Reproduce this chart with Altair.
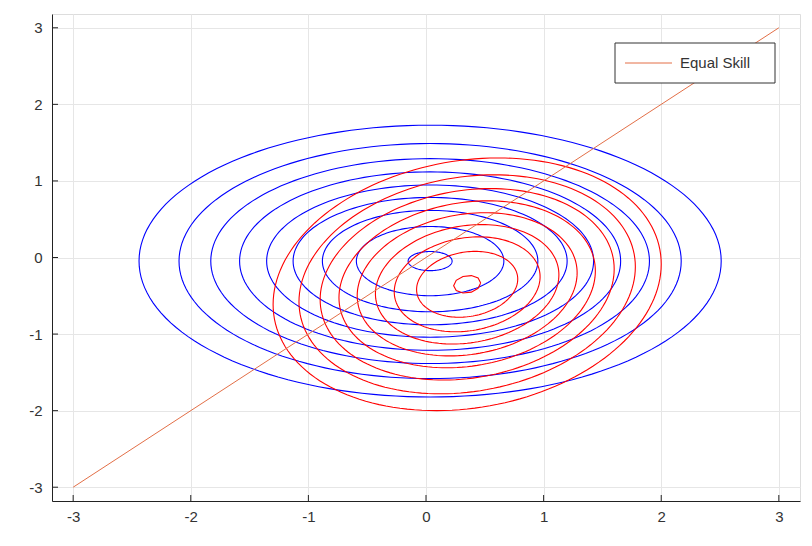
import altair as alt
import numpy as np
import pandas as pd

# ---- values ----
# blue contour family: common centre, semi-axes of each ring (x, y)
blue_center = (0.035, -0.047)
blue_semi_x = [2.475, 2.135, 1.865, 1.62, 1.39, 1.165, 0.916, 0.627, 0.187]
blue_semi_y = [1.775, 1.535, 1.338, 1.165, 0.994, 0.832, 0.662, 0.452, 0.125]

# red contour family: common centre, half-extent of each ring, tilt (correlation)
red_center = (0.35, -0.35)
red_semi = [1.65, 1.43, 1.25, 1.09, 0.935, 0.78, 0.62, 0.43, 0.115]
red_tilt = 0.16

# Equal Skill line
line_x = [-3, 3]
line_y = [-3, 3]
line_name = "Equal Skill"
line_color = "#e36f47"

tick_values = [-3, -2, -1, 0, 1, 2, 3]
domain = [-3.18, 3.18]

W, H = 748, 487
FONT = "Liberation Sans, Arial, sans-serif"

# ---- build contour table from the measured rings ----
rows = []
cid = 0
for a, b in zip(blue_semi_x, blue_semi_y):
    t = np.linspace(0, 2 * np.pi, 161)
    for i, tt in enumerate(t):
        rows.append({"cid": cid, "group": "blue", "i": i,
                     "x": blue_center[0] + a * np.cos(tt),
                     "y": blue_center[1] + b * np.sin(tt)})
    cid += 1
for k, s in enumerate(red_semi):
    n = 11 if k == len(red_semi) - 1 else 161
    t = np.linspace(0, 2 * np.pi, n)
    for i, tt in enumerate(t):
        rows.append({"cid": cid, "group": "red", "i": i,
                     "x": red_center[0] + s * np.cos(tt),
                     "y": red_center[1] + s * (red_tilt * np.cos(tt) + np.sqrt(1 - red_tilt ** 2) * np.sin(tt))})
    cid += 1
cdf = pd.DataFrame(rows)

ldf = pd.DataFrame({"x": line_x, "y": line_y, "series": [line_name] * len(line_x)})
tdf = pd.DataFrame({"v": tick_values})
legdf = pd.DataFrame({"label": [line_name]})

xs = alt.Scale(domain=domain, nice=False, zero=False)
ys = alt.Scale(domain=domain, nice=False, zero=False)

def make_axis(pad):
    return alt.Axis(values=tick_values, title=None, grid=True, gridColor="#e6e6e6", gridWidth=1,
                    domain=True, domainColor="#222222", domainWidth=1, ticks=False,
                    labelPadding=pad, labelFontSize=15, labelFont=FONT, labelColor="#333333",
                    labelFlush=False, labelExpr="'' + datum.value")

contours = alt.Chart(cdf).mark_line(strokeWidth=1.1, clip=True).encode(
    x=alt.X("x:Q", scale=xs, axis=make_axis(8)),
    y=alt.Y("y:Q", scale=ys, axis=make_axis(10)),
    color=alt.Color("group:N", scale=alt.Scale(domain=["blue", "red"], range=["#0000ff", "#ff0000"]), legend=None),
    detail="cid:N",
    order="i:Q",
)

equal = alt.Chart(ldf).mark_line(strokeWidth=1).encode(
    x=alt.X("x:Q", scale=xs),
    y=alt.Y("y:Q", scale=ys),
    color=alt.Color("series:N", scale=alt.Scale(domain=[line_name], range=[line_color]), legend=None),
)

xticks = alt.Chart(tdf).mark_rule(color="#222222", strokeWidth=1).encode(
    x=alt.X("v:Q", scale=xs), y=alt.value(H), y2=alt.value(H - 6))
yticks = alt.Chart(tdf).mark_rule(color="#222222", strokeWidth=1).encode(
    y=alt.Y("v:Q", scale=ys), x=alt.value(0), x2=alt.value(6))

# legend box (top-right, as in the reference)
leg_box = alt.Chart(legdf).mark_rect(fill="white", stroke="#333333", strokeWidth=1).encode(
    x=alt.value(563), x2=alt.value(723), y=alt.value(29), y2=alt.value(69))
leg_line = alt.Chart(legdf).mark_rule(color=line_color, strokeWidth=1).encode(
    x=alt.value(573), x2=alt.value(620), y=alt.value(49))
leg_text = alt.Chart(legdf).mark_text(align="left", baseline="middle", font=FONT, fontSize=15,
                                      color="#333333").encode(
    x=alt.value(628), y=alt.value(49), text="label:N")

chart = alt.layer(contours, equal, xticks, yticks, leg_box, leg_line, leg_text).resolve_scale(
    color="independent").properties(
    width=W, height=H,
    autosize=alt.AutoSizeParams(type="none"),
    padding={"left": 44, "top": 6, "right": 4, "bottom": 30},
).configure_view(stroke=None).configure(background="white")

chart.save("out.html", embed_options={"renderer": "svg", "actions": False})
